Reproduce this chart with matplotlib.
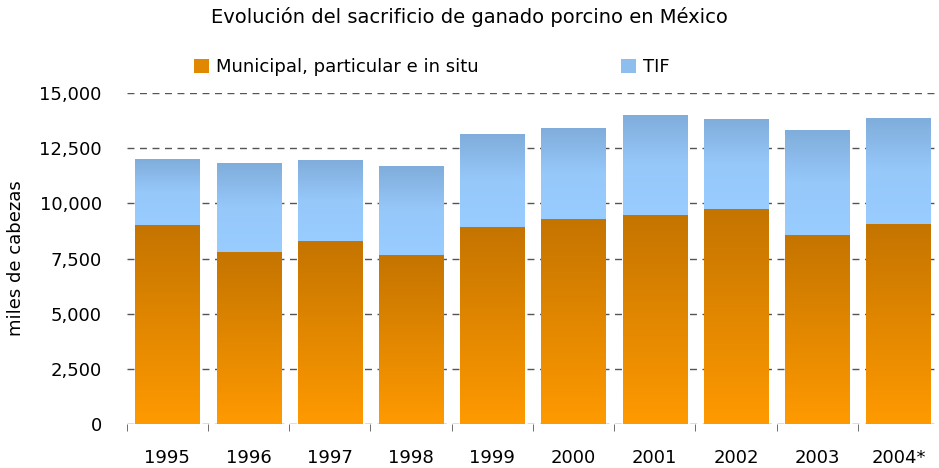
import matplotlib
matplotlib.use("Agg")
import matplotlib.pyplot as plt
import numpy as np
from matplotlib.colors import LinearSegmentedColormap
from matplotlib.patches import Patch
from matplotlib.ticker import FuncFormatter

# Data (miles de cabezas)
years = ["1995", "1996", "1997", "1998", "1999", "2000", "2001", "2002", "2003", "2004*"]
municipal = [9040, 7820, 8310, 7640, 8950, 9310, 9490, 9760, 8590, 9080]
total = [12020, 11840, 11970, 11660, 13150, 13420, 14010, 13830, 13330, 13870]
tif = [t - m for t, m in zip(total, municipal)]

plt.rcParams["font.family"] = ["DejaVu Sans"]

fig = plt.figure(figsize=(9.39, 4.68), dpi=100)
ax = fig.add_axes([0.135, 0.094, 0.865, 0.707])
ax.set_axisbelow(True)

orange_cmap = LinearSegmentedColormap.from_list("orng", ["#FF9A00", "#C47400"])
blue_cmap = LinearSegmentedColormap.from_list("blu", ["#99CCFF", "#96C8FA", "#80ADDB"])
grad = np.linspace(0, 1, 256).reshape(-1, 1)

x = np.arange(len(years))
bars_m = ax.bar(x, municipal, width=0.79, color="none", zorder=3)
bars_t = ax.bar(x, tif, bottom=municipal, width=0.79, color="none", zorder=3)

# Fill each bar with a vertical gradient
for bars, cmap in ((bars_m, orange_cmap), (bars_t, blue_cmap)):
    for b in bars:
        x0, y0 = b.get_x(), b.get_y()
        ax.imshow(grad, cmap=cmap, origin="lower", aspect="auto", zorder=3,
                  interpolation="bilinear",
                  extent=[x0, x0 + b.get_width(), y0, y0 + b.get_height()])

ax.set_xlim(-0.49, 9.39)
ax.set_ylim(0, 15000)
ax.set_yticks(np.arange(0, 15001, 2500))
ax.yaxis.set_major_formatter(FuncFormatter(lambda v, p: f"{int(v):,}"))
ax.yaxis.grid(True, linestyle=(0, (5, 4)), color="#555555", linewidth=1.0)
ax.xaxis.grid(False)

ax.set_xticks(x)
ax.set_xticklabels(years)
ax.set_xticks(np.arange(-0.5, 10, 1), minor=True)
ax.tick_params(axis="x", which="major", length=0, pad=18, labelsize=13)
ax.tick_params(axis="x", which="minor", length=5, color="#555555")
ax.tick_params(axis="y", length=0, pad=18, labelsize=13)
for s in ax.spines.values():
    s.set_visible(False)

ax.set_ylabel("miles de cabezas", fontsize=13, labelpad=10)

fig.suptitle("Evolución del sacrificio de ganado porcino en México", fontsize=14, y=0.985)

handles = [Patch(facecolor="#E08800", label="Municipal, particular e in situ"),
           Patch(facecolor="#8EBEEE", label="TIF")]
fig.legend(handles=handles, ncol=2, frameon=False, fontsize=13,
           loc="center", bbox_to_anchor=(0.46, 0.857),
           handlelength=0.8, handleheight=0.8, handletextpad=0.4, columnspacing=7.9)

fig.savefig("out.png", dpi=100)
